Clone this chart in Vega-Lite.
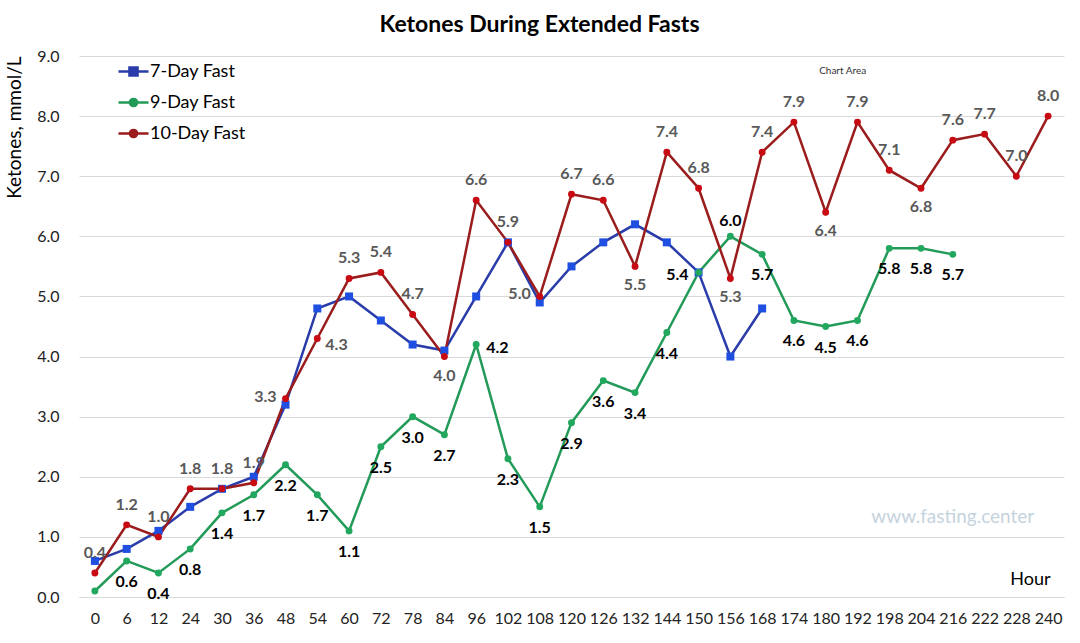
{
  "$schema": "https://vega.github.io/schema/vega-lite/v6.json",
  "autosize": "none",
  "width": 985,
  "height": 541,
  "padding": {"left": 79, "top": 56, "right": 16, "bottom": 46},
  "background": "white",
  "title": {
    "text": "Ketones During Extended Fasts",
    "fontSize": 23,
    "fontWeight": "bold",
    "color": "#000000",
    "baseline": "alphabetic",
    "offset": 24,
    "dx": -32,
    "dy": 31
  },
  "config": {
    "font": "Lato",
    "view": {"stroke": null},
    "axis": {"gridColor": "#d9d9d9", "domainColor": "#d9d9d9", "labelColor": "#222222", "labelFontSize": 16}
  },
  "data": {
    "values": [
      {"hour": 0, "series": "7-Day Fast", "value": 0.6},
      {"hour": 6, "series": "7-Day Fast", "value": 0.8},
      {"hour": 12, "series": "7-Day Fast", "value": 1.1},
      {"hour": 24, "series": "7-Day Fast", "value": 1.5},
      {"hour": 30, "series": "7-Day Fast", "value": 1.8},
      {"hour": 36, "series": "7-Day Fast", "value": 2.0},
      {"hour": 48, "series": "7-Day Fast", "value": 3.2},
      {"hour": 54, "series": "7-Day Fast", "value": 4.8},
      {"hour": 60, "series": "7-Day Fast", "value": 5.0},
      {"hour": 72, "series": "7-Day Fast", "value": 4.6},
      {"hour": 78, "series": "7-Day Fast", "value": 4.2},
      {"hour": 84, "series": "7-Day Fast", "value": 4.1},
      {"hour": 96, "series": "7-Day Fast", "value": 5.0},
      {"hour": 102, "series": "7-Day Fast", "value": 5.9},
      {"hour": 108, "series": "7-Day Fast", "value": 4.9},
      {"hour": 120, "series": "7-Day Fast", "value": 5.5},
      {"hour": 126, "series": "7-Day Fast", "value": 5.9},
      {"hour": 132, "series": "7-Day Fast", "value": 6.2},
      {"hour": 144, "series": "7-Day Fast", "value": 5.9},
      {"hour": 150, "series": "7-Day Fast", "value": 5.4},
      {"hour": 156, "series": "7-Day Fast", "value": 4.0},
      {"hour": 168, "series": "7-Day Fast", "value": 4.8},
      {"hour": 0, "series": "9-Day Fast", "value": 0.1},
      {"hour": 6, "series": "9-Day Fast", "value": 0.6},
      {"hour": 12, "series": "9-Day Fast", "value": 0.4},
      {"hour": 24, "series": "9-Day Fast", "value": 0.8},
      {"hour": 30, "series": "9-Day Fast", "value": 1.4},
      {"hour": 36, "series": "9-Day Fast", "value": 1.7},
      {"hour": 48, "series": "9-Day Fast", "value": 2.2},
      {"hour": 54, "series": "9-Day Fast", "value": 1.7},
      {"hour": 60, "series": "9-Day Fast", "value": 1.1},
      {"hour": 72, "series": "9-Day Fast", "value": 2.5},
      {"hour": 78, "series": "9-Day Fast", "value": 3.0},
      {"hour": 84, "series": "9-Day Fast", "value": 2.7},
      {"hour": 96, "series": "9-Day Fast", "value": 4.2},
      {"hour": 102, "series": "9-Day Fast", "value": 2.3},
      {"hour": 108, "series": "9-Day Fast", "value": 1.5},
      {"hour": 120, "series": "9-Day Fast", "value": 2.9},
      {"hour": 126, "series": "9-Day Fast", "value": 3.6},
      {"hour": 132, "series": "9-Day Fast", "value": 3.4},
      {"hour": 144, "series": "9-Day Fast", "value": 4.4},
      {"hour": 150, "series": "9-Day Fast", "value": 5.4},
      {"hour": 156, "series": "9-Day Fast", "value": 6.0},
      {"hour": 168, "series": "9-Day Fast", "value": 5.7},
      {"hour": 174, "series": "9-Day Fast", "value": 4.6},
      {"hour": 180, "series": "9-Day Fast", "value": 4.5},
      {"hour": 192, "series": "9-Day Fast", "value": 4.6},
      {"hour": 198, "series": "9-Day Fast", "value": 5.8},
      {"hour": 204, "series": "9-Day Fast", "value": 5.8},
      {"hour": 216, "series": "9-Day Fast", "value": 5.7},
      {"hour": 0, "series": "10-Day Fast", "value": 0.4},
      {"hour": 6, "series": "10-Day Fast", "value": 1.2},
      {"hour": 12, "series": "10-Day Fast", "value": 1.0},
      {"hour": 24, "series": "10-Day Fast", "value": 1.8},
      {"hour": 30, "series": "10-Day Fast", "value": 1.8},
      {"hour": 36, "series": "10-Day Fast", "value": 1.9},
      {"hour": 48, "series": "10-Day Fast", "value": 3.3},
      {"hour": 54, "series": "10-Day Fast", "value": 4.3},
      {"hour": 60, "series": "10-Day Fast", "value": 5.3},
      {"hour": 72, "series": "10-Day Fast", "value": 5.4},
      {"hour": 78, "series": "10-Day Fast", "value": 4.7},
      {"hour": 84, "series": "10-Day Fast", "value": 4.0},
      {"hour": 96, "series": "10-Day Fast", "value": 6.6},
      {"hour": 102, "series": "10-Day Fast", "value": 5.9},
      {"hour": 108, "series": "10-Day Fast", "value": 5.0},
      {"hour": 120, "series": "10-Day Fast", "value": 6.7},
      {"hour": 126, "series": "10-Day Fast", "value": 6.6},
      {"hour": 132, "series": "10-Day Fast", "value": 5.5},
      {"hour": 144, "series": "10-Day Fast", "value": 7.4},
      {"hour": 150, "series": "10-Day Fast", "value": 6.8},
      {"hour": 156, "series": "10-Day Fast", "value": 5.3},
      {"hour": 168, "series": "10-Day Fast", "value": 7.4},
      {"hour": 174, "series": "10-Day Fast", "value": 7.9},
      {"hour": 180, "series": "10-Day Fast", "value": 6.4},
      {"hour": 192, "series": "10-Day Fast", "value": 7.9},
      {"hour": 198, "series": "10-Day Fast", "value": 7.1},
      {"hour": 204, "series": "10-Day Fast", "value": 6.8},
      {"hour": 216, "series": "10-Day Fast", "value": 7.6},
      {"hour": 222, "series": "10-Day Fast", "value": 7.7},
      {"hour": 228, "series": "10-Day Fast", "value": 7.0},
      {"hour": 240, "series": "10-Day Fast", "value": 8.0}
    ]
  },
  "encoding": {
    "x": {
      "field": "hour",
      "type": "ordinal",
      "scale": {"type": "point", "padding": 0.5},
      "axis": {
        "labelAngle": 0,
        "ticks": false,
        "tickSize": 0,
        "labelPadding": 13,
        "grid": false,
        "title": "Hour",
        "titleFontSize": 18,
        "titleFontWeight": "normal",
        "titleColor": "#000000",
        "titleAnchor": null,
        "titleAlign": "right",
        "titleBaseline": "alphabetic",
        "titleX": 971,
        "titleY": -13
      }
    },
    "y": {
      "field": "value",
      "type": "quantitative",
      "scale": {"domain": [0, 9], "nice": false},
      "axis": {
        "values": [0, 1, 2, 3, 4, 5, 6, 7, 8, 9],
        "format": ".1f",
        "domain": false,
        "ticks": false,
        "labelPadding": 20,
        "title": "Ketones, mmol/L",
        "titleFontSize": 19,
        "titleFontWeight": "normal",
        "titleColor": "#000000",
        "titleAnchor": "end",
        "titlePadding": 12
      }
    }
  },
  "layer": [
    {
      "mark": {"type": "line", "strokeWidth": 2.5},
      "encoding": {
        "color": {
          "field": "series",
          "type": "nominal",
          "scale": {"domain": ["7-Day Fast", "9-Day Fast", "10-Day Fast"], "range": ["#2a3caa", "#229a58", "#9a1c1c"]},
          "legend": {
            "orient": "none",
            "legendX": 38,
            "legendY": -1,
            "title": null,
            "padding": 0,
            "symbolSize": 900,
            "symbolStrokeWidth": 2.5,
            "rowPadding": 5,
            "labelOffset": 0,
            "labelFontSize": 18,
            "labelColor": "#000000",
            "encode": {
              "symbols": {
                "update": {
                  "fill": {"signal": "scale('color', datum.value)"},
                  "stroke": {"signal": "scale('color', datum.value)"},
                  "strokeWidth": {"value": 2.5},
                  "shape": {"signal": "datum.value == '7-Day Fast' ? 'M-1,0L1,0M-0.27,-0.27L0.27,-0.27L0.27,0.27L-0.27,0.27Z' : 'M-1,0L1,0M-0.24,0A0.24,0.24,0,1,1,0.24,0A0.24,0.24,0,1,1,-0.24,0Z'"}
                }
              }
            }
          }
        }
      }
    },
    {
      "transform": [{"filter": "datum.series == '7-Day Fast'"}],
      "mark": {"type": "point", "filled": true, "opacity": 1, "shape": "square", "size": 64, "color": "#1f4fe0"}
    },
    {
      "transform": [{"filter": "datum.series == '9-Day Fast'"}],
      "mark": {"type": "point", "filled": true, "opacity": 1, "shape": "circle", "size": 48, "color": "#22a85e"}
    },
    {
      "transform": [{"filter": "datum.series == '10-Day Fast'"}],
      "mark": {"type": "point", "filled": true, "opacity": 1, "shape": "circle", "size": 48, "color": "#c80a12"}
    },
    {
      "transform": [{"filter": "datum.series == '10-Day Fast' && indexof([84, 132, 156, 180, 204, 54, 48, 108], datum.hour) < 0"}],
      "mark": {"type": "text", "fontSize": 16, "fontWeight": "bold", "color": "#595959", "dy": -20},
      "encoding": {"text": {"field": "value", "type": "quantitative", "format": ".1f"}}
    },
    {
      "transform": [{"filter": "datum.series == '10-Day Fast' && indexof([84, 132, 156, 180, 204], datum.hour) >= 0"}],
      "mark": {"type": "text", "fontSize": 16, "fontWeight": "bold", "color": "#595959", "dy": 19},
      "encoding": {"text": {"field": "value", "type": "quantitative", "format": ".1f"}}
    },
    {
      "transform": [{"filter": "datum.series == '10-Day Fast' && datum.hour == 54"}],
      "mark": {"type": "text", "fontSize": 16, "fontWeight": "bold", "color": "#595959", "align": "left", "dx": 8, "dy": 6},
      "encoding": {"text": {"field": "value", "type": "quantitative", "format": ".1f"}}
    },
    {
      "transform": [{"filter": "datum.series == '10-Day Fast' && (datum.hour == 48 || datum.hour == 108)"}],
      "mark": {"type": "text", "fontSize": 16, "fontWeight": "bold", "color": "#595959", "align": "right", "dx": -9, "dy": -2},
      "encoding": {"text": {"field": "value", "type": "quantitative", "format": ".1f"}}
    },
    {
      "transform": [{"filter": "datum.series == '9-Day Fast' && indexof([0, 96, 150, 156], datum.hour) < 0"}],
      "mark": {"type": "text", "fontSize": 16, "fontWeight": "bold", "color": "#000000", "dy": 21},
      "encoding": {"text": {"field": "value", "type": "quantitative", "format": ".1f"}}
    },
    {
      "transform": [{"filter": "datum.series == '9-Day Fast' && datum.hour == 96"}],
      "mark": {"type": "text", "fontSize": 16, "fontWeight": "bold", "color": "#000000", "align": "left", "dx": 10, "dy": 3},
      "encoding": {"text": {"field": "value", "type": "quantitative", "format": ".1f"}}
    },
    {
      "transform": [{"filter": "datum.series == '9-Day Fast' && datum.hour == 150"}],
      "mark": {"type": "text", "fontSize": 16, "fontWeight": "bold", "color": "#000000", "align": "right", "dx": -10, "dy": 3},
      "encoding": {"text": {"field": "value", "type": "quantitative", "format": ".1f"}}
    },
    {
      "transform": [{"filter": "datum.series == '9-Day Fast' && datum.hour == 156"}],
      "mark": {"type": "text", "fontSize": 16, "fontWeight": "bold", "color": "#000000", "dy": -15},
      "encoding": {"text": {"field": "value", "type": "quantitative", "format": ".1f"}}
    },
    {
      "data": {"values": [{"hour": 216, "value": 1.33, "label": "www.fasting.center"}]},
      "mark": {"type": "text", "fontSize": 19, "color": "#c5d3dd"},
      "encoding": {"text": {"field": "label"}}
    },
    {
      "data": {"values": [{"hour": 180, "value": 8.75, "label": "Chart Area"}]},
      "mark": {"type": "text", "fontSize": 10, "color": "#333333", "dx": 17},
      "encoding": {"text": {"field": "label"}}
    }
  ]
}
